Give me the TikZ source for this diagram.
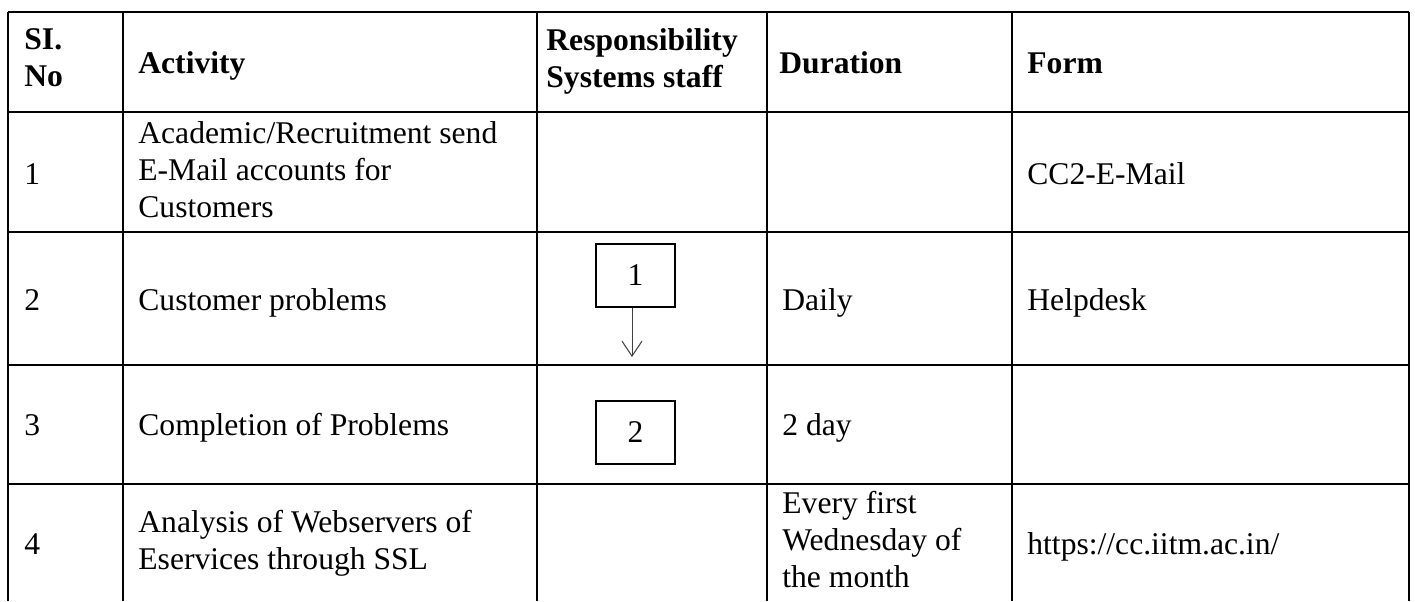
\documentclass[tikz,border=0pt]{standalone}
\usepackage{fontspec}
\setmainfont{Liberation Serif}
\usetikzlibrary{arrows.meta}
\newcommand\tabfont{\fontsize{15.8pt}{18.6pt}\selectfont}
\begin{document}
\begin{tikzpicture}[x=0.5pt,y=-0.5pt,
  grid/.style={line width=0.55pt, black},
  txt/.style={inner sep=0pt, anchor=north west, align=left, font=\tabfont,
    execute at begin node={\rule{0pt}{13pt}}},
  hd/.style={txt, font=\tabfont\bfseries},
  stepbox/.style={draw, line width=1.1pt, minimum width=39.5pt, minimum height=31.5pt,
    inner sep=0pt, font=\tabfont},
  flow/.style={line width=0.5pt, draw=black!75, -{Straight Barb[length=7.5pt,width=10pt]}}]
\useasboundingbox (0,0) rectangle (1415,601);
% table rules
\draw[grid] (8,12) -- (1409,12);
\draw[grid] (8,112) -- (1409,112);
\draw[grid] (8,232) -- (1409,232);
\draw[grid] (8,365) -- (1409,365);
\draw[grid] (8,484) -- (1409,484);
\foreach \cx in {8,123,537,767,1012,1409}
  \draw[grid] (\cx,12) -- (\cx,601);
% header
\node[hd] (h1) at (24,28) {SI.\\No};
\node[hd] (h2) at (138,46.7) {Activity};
\node[hd] (h3) at (546,28) {Responsibility\\Systems staff};
\node[hd] (h4) at (779,46.7) {Duration};
\node[hd] (h5) at (1027,46.7) {Form};
% row 1
\node[txt] (r1a) at (24,158) {1};
\node[txt] (r1b) at (138,121) {Academic/Recruitment send\\E-Mail accounts for\\Customers};
\node[txt] (r1e) at (1027,158) {CC2-E-Mail};
% row 2
\node[txt] (r2a) at (24,284) {2};
\node[txt] (r2b) at (138,284) {Customer problems};
\node[txt] (r2d) at (782,284) {Daily};
\node[txt] (r2e) at (1027,284) {Helpdesk};
% row 3
\node[txt] (r3a) at (24,409) {3};
\node[txt] (r3b) at (138,409) {Completion of Problems};
\node[txt] (r3d) at (782,409) {2 day};
% row 4
\node[txt] (r4a) at (24,528) {4};
\node[txt] (r4b) at (138,509.4) {Analysis of Webservers of\\Eservices through SSL};
\node[txt] (r4d) at (782,490.7) {Every first\\Wednesday of\\the month};
\node[txt] (r4e) at (1027,528) {https://cc.iitm.ac.in/};
% flow boxes
\node[stepbox] (b1) at (635.5,275.5) {1};
\node[stepbox] (b2) at (635.5,432.5) {2};
\coordinate (arrEnd) at (632,357);
\draw[flow] (arrEnd |- b1.south) -- (arrEnd);
\end{tikzpicture}
\end{document}
